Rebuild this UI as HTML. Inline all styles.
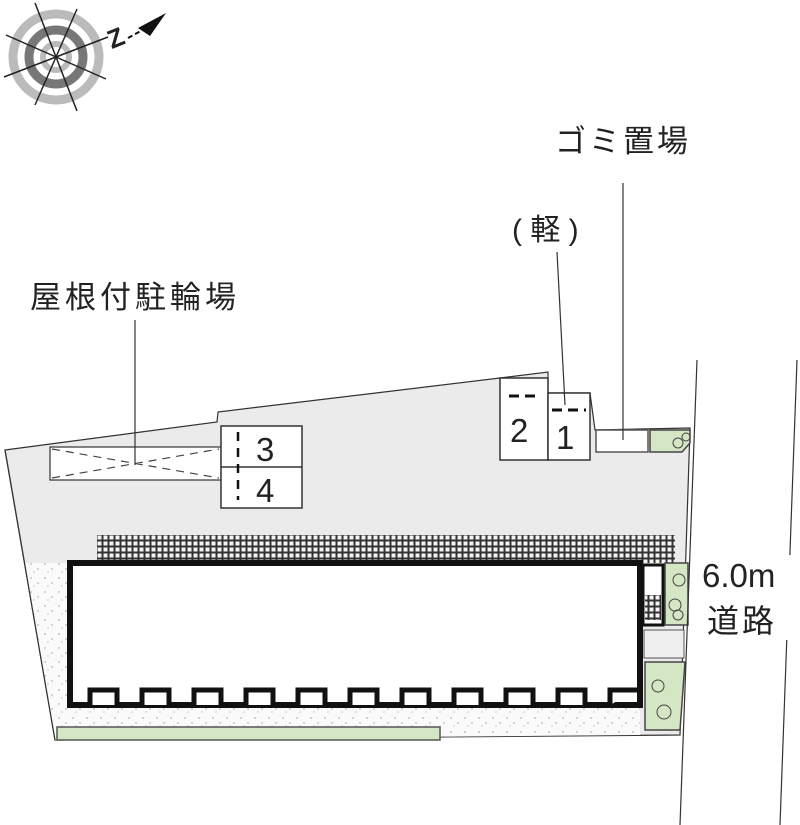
<!DOCTYPE html>
<html><head><meta charset="utf-8"><style>
html,body{margin:0;padding:0;background:#fff;width:800px;height:825px;overflow:hidden}
svg{display:block}
text{font-family:"Liberation Sans","Noto Sans CJK JP",sans-serif;fill:#222}
</style></head><body>
<svg width="800" height="825" viewBox="0 0 800 825" xmlns="http://www.w3.org/2000/svg">
<defs>
<pattern id="grid" width="6" height="6" patternUnits="userSpaceOnUse">
<rect width="6" height="6" fill="#333"/><rect x="1.5" y="1.5" width="4" height="4" fill="#f4f4f4"/>
</pattern>
<pattern id="dots" width="14" height="14" patternUnits="userSpaceOnUse">
<rect width="14" height="14" fill="#fafafa"/>
<circle cx="3" cy="4" r="0.7" fill="#999"/><circle cx="10" cy="9" r="0.7" fill="#999"/><circle cx="6" cy="12" r="0.6" fill="#aaa"/>
</pattern>
</defs>
<polygon points="5,450 217,422 218,412 500,378 548,372 548,393 590,393 595,430 690,428 680,735 55,740" fill="#ebebeb" stroke="#333" stroke-width="1.2"/>
<polygon points="25,563 70,563 70,705 640,705 640,735 55,740" fill="url(#dots)"/>
<line x1="5" y1="450" x2="55" y2="740" stroke="#333" stroke-width="1.2"/>
<rect x="57" y="727" width="383" height="13" fill="#d4e6c4" stroke="#555" stroke-width="1.5"/>
<rect x="97" y="535" width="543" height="28" fill="url(#grid)"/>
<rect x="640" y="535" width="35" height="28" fill="url(#grid)"/>
<rect x="70" y="563" width="570" height="142" fill="#fff" stroke="#111" stroke-width="6"/>
<g fill="#fff" stroke="#111" stroke-width="5">
<path d="M90,705 V690 H117 V705 M142,705 V690 H169 V705 M194,705 V690 H221 V705 M246,705 V690 H273 V705 M298,705 V690 H325 V705 M350,705 V690 H377 V705 M402,705 V690 H429 V705 M454,705 V690 H481 V705 M506,705 V690 H533 V705 M558,705 V690 H585 V705 M610,705 V690 H637"/>
</g>
<rect x="643" y="565" width="20" height="60" fill="#fff" stroke="#111" stroke-width="3"/>
<rect x="645" y="595" width="16" height="25" fill="url(#grid)"/>
<rect x="665" y="563" width="23" height="62" fill="#d4e6c4" stroke="#444" stroke-width="1.5"/>
<circle cx="679" cy="580" r="6" fill="none" stroke="#444"/><circle cx="675" cy="605" r="6" fill="none" stroke="#444"/><circle cx="678" cy="615" r="5" fill="none" stroke="#444"/>
<rect x="644" y="630" width="40" height="28" fill="#efefef" stroke="#555"/>
<polygon points="645,662 685,662 680,730 645,730" fill="#d4e6c4" stroke="#444" stroke-width="1.5"/>
<circle cx="658" cy="686" r="6" fill="none" stroke="#444"/><circle cx="664" cy="712" r="7" fill="none" stroke="#444"/>
<rect x="50" y="447" width="171" height="33" fill="#fff" stroke="#333" stroke-width="1.2"/>
<path d="M52,449 L219,478 M52,478 L219,449" stroke="#444" stroke-width="1.2" stroke-dasharray="8,6"/>
<rect x="221" y="426" width="81" height="82" fill="#fff" stroke="#333" stroke-width="1.5"/>
<line x1="221" y1="467" x2="302" y2="467" stroke="#333" stroke-width="1.5"/>
<path d="M238,432 V500" stroke="#111" stroke-width="2.5" stroke-dasharray="9,7"/>
<text x="256" y="461" font-size="33">3</text>
<text x="256" y="502" font-size="33">4</text>
<rect x="500" y="378" width="48" height="82" fill="#fff" stroke="#333" stroke-width="1.5"/>
<rect x="548" y="393" width="42" height="67" fill="#fff" stroke="#333" stroke-width="1.5"/>
<path d="M509,396 H541 M552,410 H586" stroke="#111" stroke-width="3" stroke-dasharray="10,6"/>
<text x="510" y="442" font-size="33">2</text>
<text x="556" y="449" font-size="33">1</text>
<rect x="596" y="430" width="52" height="22" fill="#fff" stroke="#555" stroke-width="1.5"/>
<polygon points="650,430 690,430 690,443 682,452 650,452" fill="#d4e6c4" stroke="#444" stroke-width="1.5"/>
<circle cx="678" cy="443" r="5" fill="none" stroke="#444"/><circle cx="686" cy="437" r="4" fill="none" stroke="#444"/>
<line x1="697" y1="360" x2="680" y2="825" stroke="#333" stroke-width="1.2"/>
<line x1="797" y1="360" x2="780" y2="825" stroke="#333" stroke-width="1.2"/>
<rect x="698" y="555" width="98" height="85" fill="#fff"/>
<text x="702" y="587" font-size="33">6.0m</text>
<text x="707" y="632" font-size="32" letter-spacing="3">道路</text>
<text x="30" y="308" font-size="31" letter-spacing="4">屋根付駐輪場</text>
<line x1="135" y1="320" x2="135" y2="465" stroke="#333" stroke-width="1.2"/>
<text x="555" y="152" font-size="31" letter-spacing="3">ゴミ置場</text>
<line x1="623" y1="183" x2="623" y2="440" stroke="#333" stroke-width="1.2"/>
<text x="512" y="240" font-size="30">( 軽 )</text>
<line x1="557" y1="252" x2="565" y2="405" stroke="#333" stroke-width="1.2"/>
<g transform="translate(56,57)">
<circle r="43" fill="none" stroke="#bbb" stroke-width="9"/>
<circle r="27" fill="none" stroke="#777" stroke-width="9"/>
<circle r="13" fill="none" stroke="#bbb" stroke-width="6"/>
<g stroke="#222" stroke-width="1.5">
<line x1="-21" y1="-54" x2="21" y2="54"/>
<line x1="21" y1="-48" x2="-21" y2="48"/>
<line x1="-50" y1="-22" x2="50" y2="22"/>
<line x1="-52" y1="20" x2="52" y2="-20"/>
</g>
</g>
<text x="108" y="46" font-size="26" font-weight="bold" transform="rotate(-22 118 38)">Z</text>
<polygon points="138,28 166,13 150,36" fill="#111"/>
<line x1="128" y1="38" x2="150" y2="26" stroke="#111" stroke-width="2" stroke-dasharray="5,3"/>
</svg>
</body></html>
